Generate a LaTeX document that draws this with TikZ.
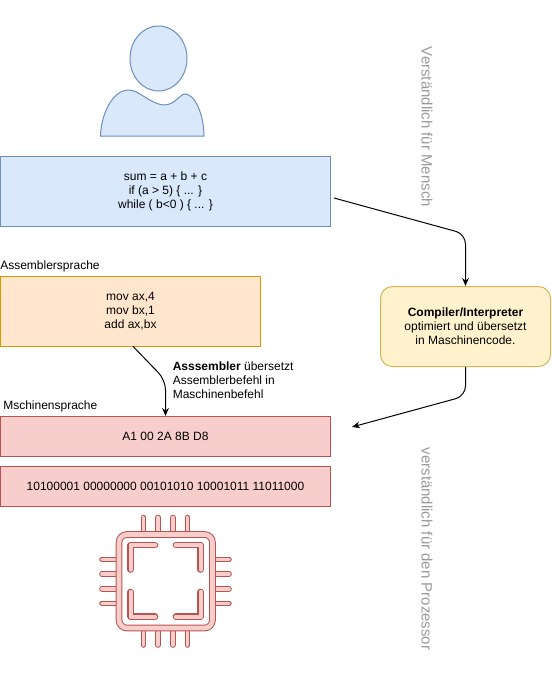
\documentclass[tikz,border=0pt]{standalone}
\usepackage{fontspec}
\setmainfont{Liberation Sans}
\usetikzlibrary{arrows.meta}
\definecolor{bluef}{HTML}{DAE8FC}\definecolor{blued}{HTML}{6C8EBF}
\definecolor{orf}{HTML}{FFE6CC}\definecolor{ord}{HTML}{D79B00}
\definecolor{redf}{HTML}{F8CECC}\definecolor{redd}{HTML}{B85450}
\definecolor{yelf}{HTML}{FFF2CC}\definecolor{yeld}{HTML}{D6B656}
\definecolor{graytxt}{HTML}{999999}
\tikzset{
 every node/.style={font=\fontsize{9}{10.5}\selectfont},
 box/.style={draw=#1d,fill=#1f,line width=0.75pt,anchor=north west,align=center,inner sep=0pt},
 lbl/.style={anchor=west,inner sep=0pt,align=left},
 side/.style={rotate=-90,text=graytxt,inner sep=0pt,font=\fontsize{11.25}{13}\selectfont},
 conn/.style={line width=0.75pt,rounded corners=7.5pt,-{Stealth[length=6pt,width=5pt]}},
 pinout/.style={line width=4.2pt,draw=redd,line cap=round},
 pinin/.style={line width=2.7pt,draw=redf,line cap=round},
 cornout/.style={line width=5pt,draw=redd,line cap=round,line join=round},
 cornin/.style={line width=3.3pt,draw=redf,line cap=round,line join=round},
}
\newcommand{\chipline}[1]{\draw[pinout] #1; \draw[pinin] #1;}
\newcommand{\chipcorner}[1]{\draw[cornout] #1; \draw[cornin] #1;}
\begin{document}
\begin{tikzpicture}[x=0.75pt,y=-0.75pt]
\useasboundingbox (0,0) rectangle (551,694);
% person
\draw[draw=blued,fill=bluef,line width=0.75pt] (158.5,58.5) ellipse [x radius=28.5,y radius=32.5];
\draw[draw=blued,fill=bluef,line width=0.75pt] (100.5,136) .. controls (101,115) and (112,90) .. (129,90)
 .. controls (139,90) and (150,104) .. (164,105) .. controls (175,105) and (180,94) .. (185,94)
 .. controls (195,94) and (204,115) .. (204,136) -- cycle;
% boxes
\node[box=blue,minimum width=330*0.75pt,minimum height=70*0.75pt] (src) at (0,156) {sum = a + b + c\\if (a > 5) \{ ... \}\\while ( b<0 ) \{ ... \}};
\node[box=or,minimum width=260*0.75pt,minimum height=70*0.75pt] (asm) at (0,276) {mov ax,4\\mov bx,1\\add ax,bx};
\node[box=red,minimum width=330*0.75pt,minimum height=40*0.75pt] (hex) at (0,416) {A1 00 2A 8B D8};
\node[box=red,minimum width=330*0.75pt,minimum height=40*0.75pt] (bin) at (0,466) {10100001 00000000 00101010 10001011 11011000};
\node[box=yel,rounded corners=9pt,minimum width=170*0.75pt,minimum height=80*0.75pt] (comp) at (380,286) {\textbf{Compiler/Interpreter}\\optimiert und übersetzt\\in Maschinencode.};
% labels
\node[lbl] (l1) at (0,266) {Assemblersprache};
\node[lbl] (l2) at (3,406) {Mschinensprache};
\node[lbl] (l3) at (172.5,380) {\textbf{Asssembler} übersetzt\\Assemblerbefehl in\\Maschinenbefehl};
\node[side] (s1) at (427,127) {Verständlich für Mensch};
\node[side] (s2) at (427,549) {verständlich für den Prozessor};
% connectors
\coordinate (c1s) at (334,198);
\coordinate (c1m) at (465.5,234);
\coordinate (c2m) at (465.5,396);
\coordinate (c2e) at (352,427);
\coordinate (c3s) at (133,346.4);
\coordinate (c3m) at (165.5,380);
\draw[conn] (c1s) -- (c1m) -- (c1m |- comp.north);
\draw[conn] (c2m |- comp.south) -- (c2m) -- (c2e);
\draw[conn] (c3s) -- (c3m) -- (c3m |- hex.north);
% chip pins
\foreach \p in {143.3,158,172.7,187.3}{
 \chipline{(\p,517.5) -- (\p,534)}
 \chipline{(\p,629) -- (\p,645)}
}
\foreach \p in {559.3,574,588.7,603.3}{
 \chipline{(102,\p) -- (119,\p)}
 \chipline{(212,\p) -- (229,\p)}
}
% chip body
\draw[draw=redd,line width=5pt,rounded corners=6pt] (119,534.5) rectangle (212.5,628);
\draw[draw=redf,line width=3.5pt,rounded corners=6pt] (119,534.5) rectangle (212.5,628);
% corners
\chipcorner{(155,545) -- (130.7,545) -- (130.7,569.5)}
\chipcorner{(176,545) -- (200.7,545) -- (200.7,569.5)}
\chipcorner{(130.7,592) -- (130.7,616.7) -- (155,616.7)}
\chipcorner{(176,616.7) -- (200.7,616.7) -- (200.7,592)}
\end{tikzpicture}
\end{document}
